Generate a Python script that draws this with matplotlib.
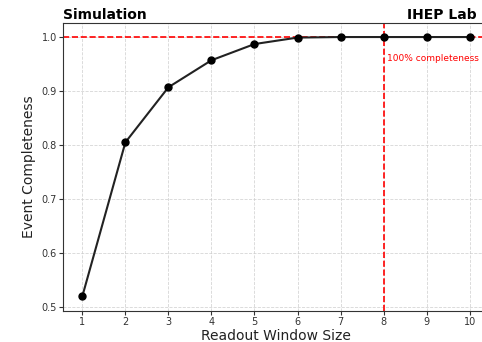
import matplotlib.pyplot as plt

window_size = [1, 2, 3, 4, 5, 6, 7, 8, 9, 10]
completeness = [0.52, 0.805, 0.907, 0.957, 0.987, 0.999, 1.0, 1.0, 1.0, 1.0]
x_ticks = [1, 2, 3, 4, 5, 6, 7, 8, 9, 10]
y_ticks = [0.5, 0.6, 0.7, 0.8, 0.9, 1.0]


def plot_completeness():
    fig = plt.figure(figsize=(4.82, 3.42), dpi=100)
    ax = fig.add_axes([63 / 482, 31 / 342, 426 / 482, 288 / 342])

    ax.plot(window_size, completeness, color='#222222', linewidth=1.5,
            marker='o', markersize=5, markerfacecolor='black', markeredgecolor='black', zorder=3)
    ax.axhline(1.0, color='red', linestyle='--', linewidth=1.2, zorder=2)
    ax.axvline(8, color='red', linestyle='--', linewidth=1.2, zorder=2)
    ax.text(8.08, 0.96, '100% completeness', color='red', fontsize=6.5, va='center')

    ax.set_xlim(0.55, 10.45)
    ax.set_ylim(0.4926, 1.026)
    ax.set_xticks(x_ticks)
    ax.set_yticks(y_ticks)
    ax.tick_params(labelsize=7, colors='#333333', length=3, pad=1.5)
    ax.grid(True, linestyle='--', color='#cccccc', linewidth=0.6, alpha=0.8)
    for s in ax.spines.values():
        s.set_color('#333333')
    ax.set_xlabel('Readout Window Size', fontsize=10, color='#222222', labelpad=1)
    ax.set_ylabel('Event Completeness', fontsize=10, color='#222222', labelpad=4)

    fig.text(63 / 482, 1 - 22 / 342, 'Simulation', fontsize=10, fontweight='bold', va='bottom', ha='left')
    fig.text(477 / 482, 1 - 22 / 342, 'IHEP Lab', fontsize=10, fontweight='bold', va='bottom', ha='right')

    fig.savefig('out.png', dpi=100)


if __name__ == "__main__":
    plot_completeness()
